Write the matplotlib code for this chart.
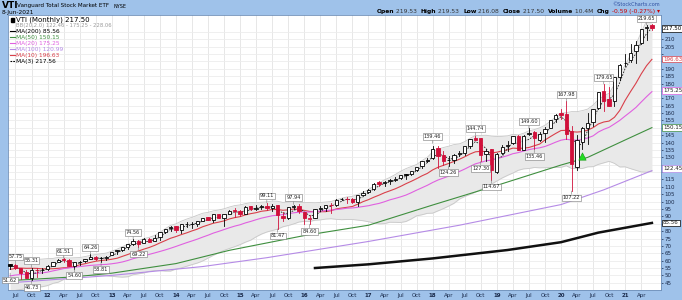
import numpy as np
import pandas as pd
import matplotlib
matplotlib.use("Agg")
import matplotlib.pyplot as plt

# ---------------- data ----------------
months = pd.period_range("2011-06", "2021-06", freq="M")

opens = [57.5, 56.8, 54.9, 52.0, 47.9, 53.5, 53.4,
         54.3, 56.7, 59.2, 60.9, 60.4, 56.3, 58.9, 59.6, 61.2, 62.3, 61.6, 61.9,
         63.9, 66.2, 67.1, 69.5, 71.3, 73.4, 71.9, 75.0, 73.4, 75.7, 79.4, 81.8,
         83.3, 80.7, 84.6, 85.1, 85.0, 86.9, 89.4, 87.5, 91.5, 89.2, 91.8, 94.0,
         93.9, 91.7, 96.8, 95.3, 96.1, 97.2, 95.8, 97.5, 90.5, 89.1, 96.6, 96.8,
         93.0, 88.5, 89.1, 94.8, 95.9, 97.8, 97.7, 101.7, 102.1, 102.0, 100.0, 104.7,
         106.4, 108.3, 113.2, 112.3, 113.8, 114.8, 116.1, 118.2, 118.4, 121.1, 124.0, 127.8,
         129.3, 136.2, 131.4, 128.0, 128.3, 132.3, 133.0, 137.6, 142.9, 142.8, 132.3, 135.7,
         120.2, 132.9, 138.0, 139.5, 144.7, 135.3, 146.0, 147.1, 142.1, 146.7, 150.1, 155.7,
         159.9, 159.2, 147.7, 123.8, 140.3, 150.0, 153.8, 163.5, 175.3, 169.6, 167.9, 184.6,
         193.7, 196.0, 202.0, 207.8, 218.0, 219.8]
highs = [57.8, 57.75, 55.0, 53.7, 55.31, 54.9, 55.2,
         56.8, 59.1, 61.2, 61.51, 61.1, 58.8, 59.9, 61.3, 64.26, 63.0, 62.4, 63.4,
         66.0, 67.4, 69.3, 71.4, 74.56, 74.0, 75.1, 75.6, 77.1, 79.5, 81.7, 83.2,
         83.7, 84.7, 86.1, 86.0, 86.8, 89.2, 89.8, 91.5, 91.9, 91.8, 94.0, 95.4,
         94.3, 96.7, 97.3, 97.4, 98.0, 99.11, 98.2, 97.6, 92.8, 96.5, 97.94, 98.1,
         93.3, 90.6, 95.3, 96.7, 97.7, 99.1, 101.6, 102.4, 103.3, 102.7, 104.7, 107.0,
         108.4, 112.4, 113.8, 113.7, 115.1, 116.4, 118.0, 118.7, 120.9, 123.7, 127.6, 129.5,
         138.0, 137.8, 134.0, 130.8, 132.3, 134.5, 137.5, 142.6, 144.74, 142.9, 135.8, 136.0,
         132.8, 138.6, 141.1, 144.8, 145.5, 145.0, 149.60, 147.6, 147.0, 150.3, 155.3, 159.2,
         162.5, 167.98, 151.2, 145.2, 150.3, 160.3, 162.6, 174.6, 179.65, 177.7, 184.5, 193.1,
         200.4, 206.8, 209.0, 217.3, 219.65, 220.2]
lows = [54.3, 54.3, 47.3, 48.0, 46.73, 48.8, 51.7,
        53.7, 56.3, 58.8, 58.8, 56.1, 54.60, 56.9, 59.2, 61.0, 60.7, 58.81, 60.4,
        63.7, 64.8, 66.8, 67.8, 70.8, 69.22, 71.7, 72.5, 73.3, 73.8, 78.7, 80.4,
        79.5, 78.7, 83.1, 82.2, 83.5, 86.6, 87.3, 86.2, 88.7, 83.7, 91.4, 89.8,
        90.2, 91.3, 94.0, 94.3, 95.2, 94.6, 93.5, 81.47, 86.9, 88.3, 94.8, 92.3,
        84.8, 84.60, 88.7, 93.9, 93.7, 92.0, 96.8, 100.9, 99.4, 99.1, 97.2, 104.5,
        105.8, 107.8, 110.4, 110.4, 112.0, 114.0, 115.4, 115.0, 117.9, 120.9, 122.5, 126.8,
        129.1, 122.8, 125.0, 124.26, 126.5, 131.1, 131.9, 136.5, 141.5, 127.30, 127.5, 114.67,
        119.4, 132.4, 134.4, 139.3, 135.1, 135.0, 145.1, 135.46, 141.2, 140.6, 149.9, 153.7,
        156.3, 142.7, 107.22, 121.4, 135.8, 139.0, 151.6, 162.7, 161.2, 165.0, 164.5, 182.2,
        191.7, 194.8, 194.0, 206.9, 209.6, 216.08]
closes = [56.6, 54.7, 51.8, 48.0, 53.7, 53.5, 53.7,
          56.5, 58.9, 60.7, 60.1, 56.4, 58.8, 59.4, 61.2, 62.3, 61.4, 61.7, 62.3,
          65.9, 67.0, 69.2, 71.3, 73.0, 71.3, 74.8, 72.8, 75.5, 79.2, 81.6, 83.1,
          80.6, 84.6, 84.7, 84.7, 86.7, 89.0, 87.3, 91.3, 89.0, 91.6, 93.8, 93.6,
          91.3, 96.6, 95.1, 95.6, 97.0, 95.4, 97.1, 91.1, 88.7, 96.3, 96.7, 93.9,
          88.8, 88.5, 94.8, 95.7, 97.5, 97.4, 101.4, 101.8, 101.7, 99.6, 104.4, 105.8,
          108.0, 112.1, 112.0, 113.4, 114.4, 115.4, 117.9, 118.0, 120.7, 123.5, 127.4, 128.5,
          135.8, 131.1, 127.6, 128.1, 131.7, 132.7, 137.5, 142.5, 142.1, 131.7, 134.4, 121.6,
          132.6, 137.3, 138.6, 144.4, 135.3, 144.4, 146.6, 143.2, 146.0, 149.3, 155.2, 158.9,
          158.6, 145.9, 125.8, 142.0, 149.8, 153.3, 162.6, 174.5, 168.4, 165.1, 184.5, 192.7,
          193.8, 200.7, 205.9, 217.2, 218.6, 217.50]

# monthly closes before the first visible bar (Nov 2009 - May 2011), used by MA(10)/MA(20)/BB
warmup_closes = [43.4, 45.3, 43.7, 45.2, 48.1, 49.3, 45.5, 42.7, 45.8, 43.6,
                 47.7, 49.7, 49.9, 53.2, 54.4, 56.5, 56.6, 58.4, 57.7]

# long moving averages (month, value)
ma50_months = ["2011-06", "2012-06", "2013-01", "2014-01", "2014-11", "2016-01",
               "2017-01", "2018-01", "2019-01", "2020-01", "2020-06", "2021-01", "2021-06"]
ma50_vals = [46.5, 49.0, 51.5, 58.0, 67.0, 77.0, 84.0, 97.7, 111.0, 124.8, 130.0, 141.8, 150.15]
ma100_months = ["2011-06", "2013-01", "2014-06", "2015-06", "2017-01", "2018-06",
                "2020-01", "2020-09", "2021-06"]
ma100_vals = [45.0, 50.0, 56.0, 62.0, 73.0, 84.0, 98.0, 108.0, 120.99]
ma200_months = ["2016-03", "2017-01", "2018-01", "2019-03", "2020-01", "2020-08", "2021-06"]
ma200_vals = [55.0, 57.5, 61.5, 67.2, 72.5, 79.0, 85.56]

# swing labels: (month, value, side)
swing_labels = [("2011-07", "57.75", "h"), ("2011-06", "51.62", "l"), ("2011-10", "46.73", "l"),
                ("2011-10", "55.31", "h"), ("2012-04", "61.51", "h"), ("2012-06", "54.60", "l"),
                ("2012-09", "64.26", "h"), ("2012-11", "58.81", "l"), ("2013-05", "74.56", "h"),
                ("2013-06", "69.22", "l"), ("2015-06", "99.11", "h"), ("2015-08", "81.47", "l"),
                ("2015-11", "97.94", "h"), ("2016-02", "84.60", "l"), ("2018-01", "139.46", "h"),
                ("2018-04", "124.26", "l"), ("2018-09", "144.74", "h"), ("2018-10", "127.30", "l"),
                ("2018-12", "114.67", "l"), ("2019-07", "149.60", "h"), ("2019-08", "135.46", "l"),
                ("2020-02", "167.98", "h"), ("2020-03", "107.22", "l"), ("2020-09", "179.65", "h"),
                ("2021-05", "219.65", "h")]

signal_month = "2020-05"
signal_value = 131.0

ytick_vals = list(range(45, 220, 5))

# right-axis value boxes: (value, text, border colour, text colour)
axis_boxes = [(217.50, "217.50", "#000000", "#000000"),
              (196.63, "196.63", "#d9404a", "#d9404a"),
              (175.25, "175.25", "#e060e0", "#222222"),
              (150.15, "150.15", "#3f8f3f", "#222222"),
              (122.46, "122.45", "#b58be6", "#222222"),
              (85.56, "85.56", "#000000", "#222222")]

# ---------------- derived ----------------
o = np.array(opens); h = np.array(highs); l = np.array(lows); c = np.array(closes)
n = len(c)
x = np.arange(n)
allc = pd.Series(warmup_closes + closes)
nw = len(warmup_closes)
ma10 = allc.rolling(10).mean().values[nw:]
ma20 = allc.rolling(20, min_periods=15).mean().values[nw:]
sd20 = allc.rolling(20, min_periods=15).std(ddof=0).values[nw:]
bb_up = ma20 + 2 * sd20
bb_lo = ma20 - 2 * sd20
ma3 = pd.Series(closes).rolling(3, min_periods=1).mean().values

def mi(s):
    return months.get_loc(pd.Period(s, freq="M"))

# ---------------- figure ----------------
W, H = 682, 300
fig = plt.figure(figsize=(W / 100, H / 100), dpi=100)
BLUE = "#9fc2ea"
fig.patch.set_facecolor(BLUE)
L, R, T, B = 8, 661, 15, 290
ax = fig.add_axes([L / W, (H - B) / H, (R - L) / W, (B - T) / H])
ax.set_facecolor("white")
ax.set_xlim(-0.4, 121.7)
ax.set_ylim(40.1, 226.5)

# grid
qmonths = [m for m in months if m.month in (1, 4, 7, 10)]
qpos = [mi(str(m)) for m in qmonths]
qlab = [(str(m.year % 100) if m.month == 1 else m.strftime("%b")) for m in qmonths]
for p in qpos:
    ax.axvline(p, color="#e3e3e3", lw=0.6, zorder=0)
for v in ytick_vals:
    ax.axhline(v, color="#ececec", lw=0.6, zorder=0)

# Bollinger band
ax.fill_between(x, bb_lo, bb_up, color="#e9e9e9", zorder=1, lw=0)
ax.plot(x, bb_up, color="#c8c8c8", lw=0.6, zorder=1.5)
ax.plot(x, bb_lo, color="#c8c8c8", lw=0.6, zorder=1.5)

# moving averages
ax.plot(x, ma10, color="#d9404a", lw=0.8, zorder=2)
ax.plot(x, ma20, color="#e060e0", lw=0.8, zorder=2)
ax.plot([mi(m) for m in ma50_months], ma50_vals, color="#3f8f3f", lw=0.8, zorder=2)
ax.plot([mi(m) for m in ma100_months], ma100_vals, color="#b58be6", lw=0.8, zorder=2)
ax.plot([mi(m) for m in ma200_months], ma200_vals, color="#111111", lw=1.8, zorder=2)
ax.plot(x, ma3, color="#222222", lw=0.6, ls=(0, (2, 1.5)), zorder=2.2)

# candles
prev = np.r_[c[0], c[:-1]]
bw = 0.62
for i in range(n):
    col = "#d0103a" if c[i] < prev[i] else "#000000"
    filled = c[i] < o[i]
    ax.plot([i, i], [l[i], h[i]], color=col, lw=0.6, zorder=3)
    lo_b, hi_b = min(o[i], c[i]), max(o[i], c[i])
    if hi_b - lo_b < 0.4:
        hi_b = lo_b + 0.4
    ax.add_patch(plt.Rectangle((i - bw / 2, lo_b), bw, hi_b - lo_b,
                               facecolor=col if filled else "white",
                               edgecolor=col, lw=0.6, zorder=4))

# signal arrow
ax.scatter([mi(signal_month)], [signal_value], marker="^", s=28, color="#22dd22",
           edgecolors="#119911", linewidths=0.4, zorder=5)

# swing labels
for m, txt, side in swing_labels:
    i = mi(m)
    val = float(txt)
    dy = 7 if side == "h" else -7
    ax.annotate(txt, (i, val), xytext=(0, dy * 0.72), textcoords="offset points",
                ha="center", va="center", fontsize=3.6, color="#222222", zorder=6,
                bbox=dict(boxstyle="square,pad=0.18", fc="white", ec="#777777", lw=0.4),
                arrowprops=dict(arrowstyle="-", color="#777777", lw=0.4, shrinkA=0, shrinkB=0))

# axes styling
for s in ax.spines.values():
    s.set_color("#6f8fb8"); s.set_linewidth(0.6)
ax.yaxis.tick_right()
ax.set_yticks(ytick_vals)
box_vals = [b[0] for b in axis_boxes]
ax.set_yticklabels(["" if min(abs(v - bv) for bv in box_vals) < 4.0 else str(v) for v in ytick_vals])
ax.tick_params(axis="y", labelsize=4.0, length=1.5, pad=0.8, colors="#1a2a4a", width=0.5)
ax.set_xticks(qpos)
ax.set_xticklabels(qlab)
for t, m in zip(ax.get_xticklabels(), qmonths):
    if m.month == 1:
        t.set_fontweight("bold")
ax.tick_params(axis="x", labelsize=4.0, length=0, pad=2.5, colors="#1a2a4a")

for v, t, ec, tc in axis_boxes:
    ax.annotate(t, (1.0, v), xycoords=("axes fraction", "data"), xytext=(1.5, 0),
                textcoords="offset points", ha="left", va="center", fontsize=4.0, color=tc,
                bbox=dict(boxstyle="square,pad=0.15", fc="white", ec=ec, lw=0.5), zorder=10,
                annotation_clip=False)

# legend
leg = [("VTI (Monthly) 217.50", "#000000", None, 5.0),
       ("BB(20,2.0) 122.46 - 175.25 - 228.06", "#999999", None, 3.8),
       ("MA(200) 85.56", "#000000", "-", 4.2),
       ("MA(50) 150.15", "#3f8f3f", "-", 4.2),
       ("MA(20) 175.25", "#e060e0", "-", 4.2),
       ("MA(100) 120.99", "#b58be6", "-", 4.2),
       ("MA(10) 196.63", "#d9404a", "-", 4.2),
       ("MA(3) 217.56", "#000000", "--", 4.2)]
ys = [19.5, 25, 31, 37, 43, 49, 55, 61]
for k, ((txt, col, ls, fs), yy) in enumerate(zip(leg, ys)):
    fy = 1 - yy / H
    fig.text(16 / W, fy, txt, fontsize=fs, color=col, va="center", ha="left")
    if ls is not None:
        fig.lines.append(plt.Line2D([10 / W, 15 / W], [fy, fy], color=col, lw=0.8,
                                    ls="-" if ls == "-" else (0, (1.5, 1)), transform=fig.transFigure))
    elif k == 0:
        fig.patches.append(plt.Rectangle((11 / W, fy - 2 / H), 2.5 / W, 4 / H, color="black",
                                         transform=fig.transFigure))

# header
fig.text(2 / W, 1 - 6 / H, "VTI", fontsize=6.5, fontweight="bold", color="#000000", va="center")
fig.text(17 / W, 1 - 6 / H, "Vanguard Total Stock Market ETF", fontsize=4.1, color="#000000", va="center")
fig.text(114 / W, 1 - 6 / H, "NYSE", fontsize=3.5, color="#000000", va="center")
fig.text(2 / W, 1 - 12.5 / H, "8-Jun-2021", fontsize=4.2, color="#000000", va="center")
fig.text(660 / W, 1 - 4 / H, "©StockCharts.com", fontsize=3.6, color="#3050a0", va="center", ha="right")

fig.canvas.draw()
rend = fig.canvas.get_renderer()
parts = [("Open", True, "#000"), (" 219.53  ", False, "#333"), ("High", True, "#000"), (" 219.53  ", False, "#333"),
         ("Low", True, "#000"), (" 216.08  ", False, "#333"), ("Close", True, "#000"), (" 217.50  ", False, "#333"),
         ("Volume", True, "#000"), (" 10.4M  ", False, "#333"), ("Chg", True, "#000"),
         (" -0.59 (-0.27%) ▾", False, "#cc0000")]
xr = 660
for txt, bold, col in reversed(parts):
    t = fig.text(xr / W, 1 - 11.5 / H, txt, fontsize=4.3, fontweight="bold" if bold else "normal",
                 color=col, ha="right", va="center")
    bb = t.get_window_extent(rend)
    xr -= bb.width

fig.savefig("out.png", dpi=100, facecolor=fig.get_facecolor())
